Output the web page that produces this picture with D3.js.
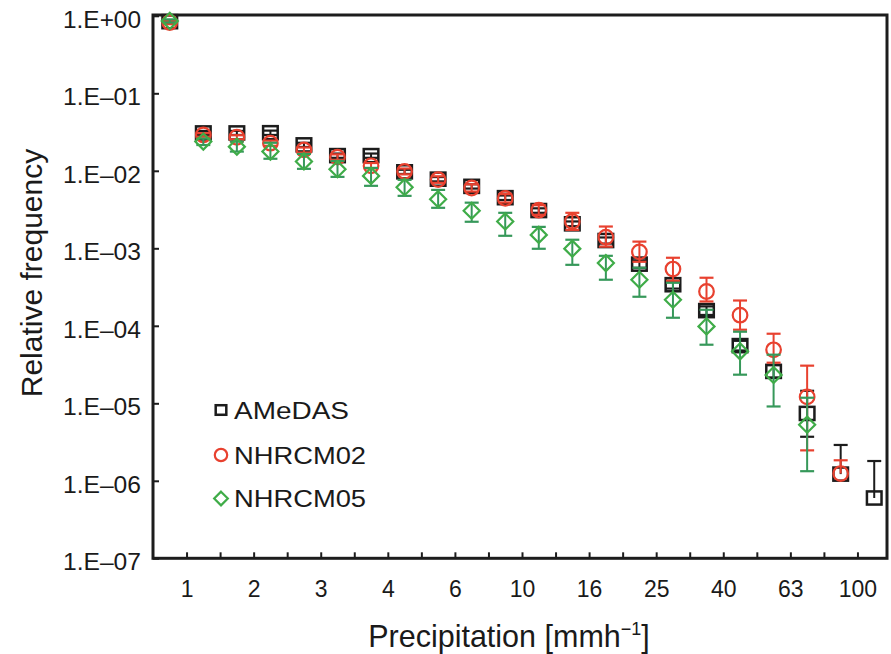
<!DOCTYPE html>
<html>
<head>
<meta charset="utf-8">
<script src="https://cdn.jsdelivr.net/npm/d3@7/dist/d3.min.js"></script>
<style>
  html, body { margin: 0; padding: 0; background: #fff; }
  svg { display: block; }
  text { font-family: "Liberation Sans", Arial, Helvetica, sans-serif; fill: #1a1a1a; }
</style>
</head>
<body>
<div id="chart"></div>
<script>
// ---- data ----
const tickLabels = ["1", "2", "3", "4", "6", "10", "16", "25", "40", "63", "100"];
const yTickValues = [1, 1e-1, 1e-2, 1e-3, 1e-4, 1e-5, 1e-6, 1e-7];
const seriesNames = ["AMeDAS", "NHRCM02", "NHRCM05"];

const amedas   = [0.84, 0.0308, 0.0308, 0.031, 0.0216, 0.0157, 0.0157, 0.0097, 0.0078, 0.0063, 0.0045, 0.00307, 0.00207, 0.00126, 0.000625, 0.000339, 0.000157, 0.0000555, 0.0000258, 0.0000074, 0.00000122, 0.0000006];
const amedasLo = [0.80, 0.029, 0.029, 0.029, 0.0203, 0.0147, 0.0147, 0.0091, 0.0073, 0.0059, 0.0042, 0.00287, 0.00193, 0.00115, 0.00056, 0.000302, 0.000138, 0.000048, 0.0000215, 0.0000037, 0.00000122, 0.0000006];
const amedasHi = [0.88, 0.0327, 0.0327, 0.033, 0.023, 0.0167, 0.0167, 0.0103, 0.0083, 0.0067, 0.0048, 0.00328, 0.00222, 0.00138, 0.0007, 0.00038, 0.000178, 0.000064, 0.000031, 0.0000145, 0.0000029, 0.0000018];

const nhrcm02   = [0.82, 0.029, 0.0271, 0.0227, 0.0186, 0.015, 0.0116, 0.0098, 0.0077, 0.006, 0.0044, 0.0031, 0.00222, 0.00139, 0.0009, 0.00054, 0.000277, 0.000137, 0.000049, 0.0000121, 0.00000124, null];
const nhrcm02Lo = [0.78, 0.0275, 0.0255, 0.021, 0.0172, 0.0138, 0.0107, 0.009, 0.007, 0.0054, 0.0039, 0.0027, 0.00173, 0.00105, 0.00067, 0.000381, 0.000206, 0.000089, 0.0000334, 0.00000247, 0.00000124, null];
const nhrcm02Hi = [0.86, 0.0306, 0.0288, 0.0245, 0.02, 0.0163, 0.0126, 0.0107, 0.0085, 0.0067, 0.005, 0.0036, 0.00287, 0.00191, 0.00122, 0.000755, 0.000417, 0.000212, 0.000079, 0.0000306, 0.00000184, null];

const nhrcm05   = [0.86, 0.0238, 0.0205, 0.0177, 0.0132, 0.0105, 0.0086, 0.00615, 0.0043, 0.00305, 0.00222, 0.00149, 0.00099, 0.000645, 0.000393, 0.000217, 0.0000983, 0.0000468, 0.0000232, 0.0000053, null, null];
const nhrcm05Lo = [0.82, 0.0215, 0.0177, 0.0143, 0.0106, 0.00835, 0.0064, 0.00475, 0.00333, 0.0022, 0.00145, 0.000986, 0.000612, 0.000393, 0.000237, 0.000127, 0.000057, 0.0000234, 0.0000091, 0.00000133, null, null];
const nhrcm05Hi = [0.90, 0.026, 0.0238, 0.023, 0.0165, 0.0134, 0.0109, 0.00764, 0.00567, 0.00388, 0.00287, 0.00189, 0.00129, 0.0008, 0.000561, 0.000359, 0.000161, 0.0000839, 0.0000424, 0.0000118, null, null];

// ---- layout ----
const W = 891, H = 654;
const mLeft = 153, mRight = 887, mTop = 15.8, mBottom = 558.3;
const nBins = 22;
const colors = { black: "#1c1c1c", red: "#e8412f", green: "#3fac48", greenBar: "#36985a" };

const svg = d3.select("#chart").append("svg").attr("width", W).attr("height", H);

const x = d3.scaleLinear().domain([0, nBins]).range([mLeft, 891]);
const y = d3.scaleLog().domain([1e-7, 1]).range([mBottom, mTop]);

// axes
const fmtY = v => {
  const e = Math.round(Math.log10(v));
  if (e === 0) return "1.E+00";
  return "1.E\u2013" + String(-e).padStart(2, "0");
};
const yAxis = svg.append("g").attr("transform", `translate(${mLeft},0)`)
  .call(d3.axisLeft(y).tickValues(yTickValues).tickFormat(fmtY).tickSize(-6).tickPadding(12));
yAxis.select(".domain").remove();
yAxis.selectAll(".tick line").attr("stroke", colors.black).attr("stroke-width", 2);
yAxis.selectAll(".tick text").attr("font-size", 23).attr("dy", "0.5em")
  .attr("textLength", 78).attr("lengthAdjust", "spacingAndGlyphs")
  .style("font-family", '"Liberation Sans", Arial, sans-serif').attr("fill", "#1a1a1a");

const edges = d3.range(1, nBins);
const xAxis = svg.append("g").attr("transform", `translate(0,${mBottom})`)
  .call(d3.axisBottom(x).tickValues(edges)
    .tickFormat(e => ((e - 1) % 2 === 0 ? tickLabels[(e - 1) / 2] : ""))
    .tickSize(-6).tickPadding(22));
xAxis.select(".domain").remove();
xAxis.selectAll(".tick line").attr("stroke", colors.black).attr("stroke-width", 2);
xAxis.selectAll(".tick text").attr("font-size", 23)
  .style("font-family", '"Liberation Sans", Arial, sans-serif').attr("fill", "#1a1a1a");

// frame
svg.append("rect").attr("x", mLeft).attr("y", 15).attr("width", mRight - mLeft).attr("height", mBottom - 15)
  .attr("fill", "none").attr("stroke", colors.black).attr("stroke-width", 3);

// series
const series = [
  { name: seriesNames[0], v: amedas, lo: amedasLo, hi: amedasHi, color: colors.black, bar: colors.black, shape: "square" },
  { name: seriesNames[1], v: nhrcm02, lo: nhrcm02Lo, hi: nhrcm02Hi, color: colors.red, bar: colors.red, shape: "circle" },
  { name: seriesNames[2], v: nhrcm05, lo: nhrcm05Lo, hi: nhrcm05Hi, color: colors.green, bar: colors.greenBar, shape: "diamond" }
];

function drawMarker(g, shape, color, s) {
  if (shape === "square") {
    g.append("rect").attr("x", -s).attr("y", -s * 0.9).attr("width", 2 * s).attr("height", 1.8 * s)
      .attr("fill", "none").attr("stroke", color).attr("stroke-width", 2.5);
  } else if (shape === "circle") {
    g.append("circle").attr("r", s).attr("fill", "none").attr("stroke", color).attr("stroke-width", 2.2);
  } else {
    const d = s * 1.1;
    g.append("path").attr("d", `M0,${-d}L${d},0L0,${d}L${-d},0Z`)
      .attr("fill", "none").attr("stroke", color).attr("stroke-width", 2.2);
  }
}

const capW = 7;
series.forEach(s => {
  const g = svg.append("g");
  s.v.forEach((val, i) => {
    if (val == null) return;
    const cx = x(i + 0.5);
    const yl = y(s.lo[i]), yh = y(s.hi[i]);
    g.append("line").attr("x1", cx).attr("x2", cx).attr("y1", yl).attr("y2", yh)
      .attr("stroke", s.bar).attr("stroke-width", 2);
    if (s.lo[i] < val) g.append("line").attr("x1", cx - capW).attr("x2", cx + capW).attr("y1", yl).attr("y2", yl)
      .attr("stroke", s.bar).attr("stroke-width", 2.2);
    if (s.hi[i] > val) g.append("line").attr("x1", cx - capW).attr("x2", cx + capW).attr("y1", yh).attr("y2", yh)
      .attr("stroke", s.bar).attr("stroke-width", 2.2);
    const m = g.append("g").attr("transform", `translate(${cx},${y(val)})`);
    drawMarker(m, s.shape, s.color, 7.3);
  });
});

// legend
const legend = svg.append("g");
const legY = [410, 455, 498.5];
const legLen = [115, 132, 132];
series.forEach((s, k) => {
  const m = legend.append("g").attr("transform", `translate(221,${legY[k]})`);
  drawMarker(m, s.shape, s.color, s.shape === "square" ? 5.3 : 6.2);
  legend.append("text").attr("x", 234).attr("y", legY[k] + 8.5).attr("font-size", 24)
    .attr("textLength", legLen[k]).attr("lengthAdjust", "spacingAndGlyphs").text(s.name);
});

// axis titles
svg.append("text").attr("transform", "translate(42,273) rotate(-90)")
  .attr("text-anchor", "middle").attr("font-size", 30).text("Relative frequency");

const xt = svg.append("text").attr("x", 509).attr("y", 647).attr("text-anchor", "middle").attr("font-size", 30.5);
xt.append("tspan").text("Precipitation [mmh");
xt.append("tspan").attr("font-size", 18).attr("dy", -12).text("\u22121");
xt.append("tspan").attr("dy", 12).text("]");
</script>
</body>
</html>
